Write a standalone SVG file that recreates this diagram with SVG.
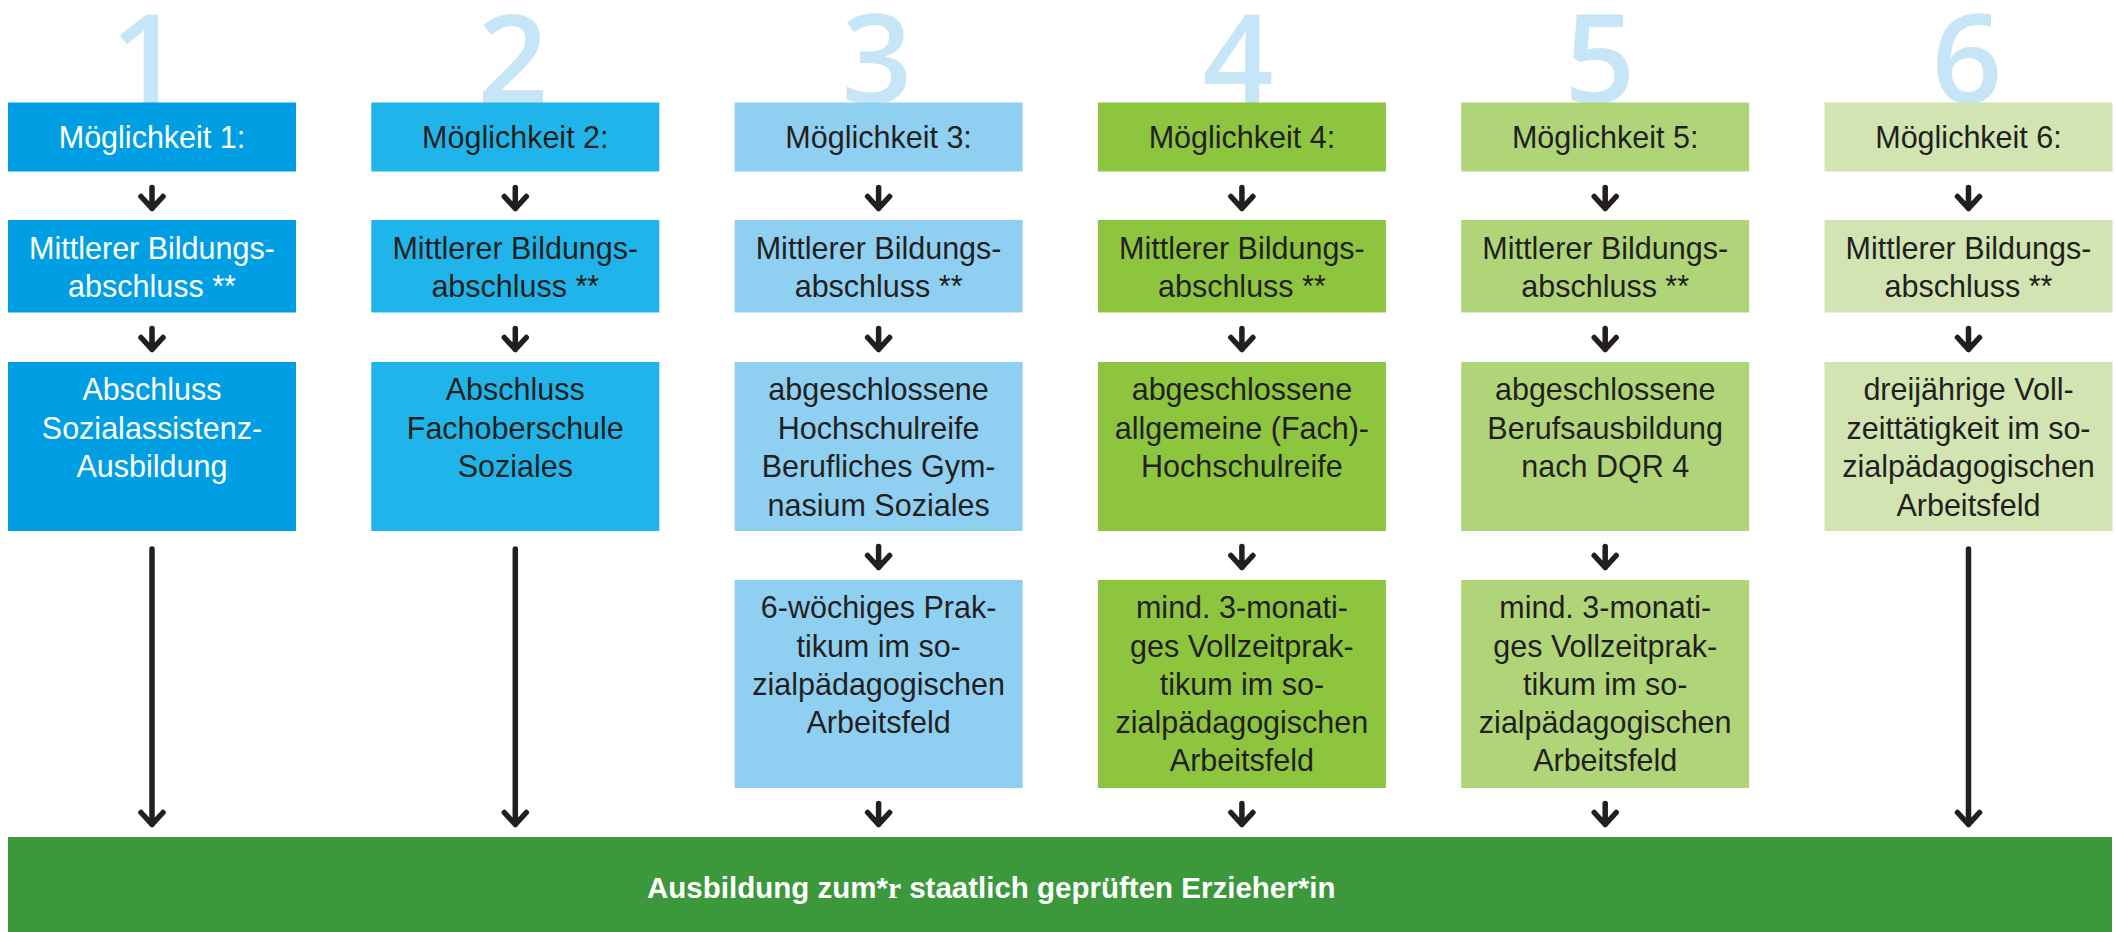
<svg xmlns="http://www.w3.org/2000/svg" width="2116" height="932" viewBox="0 0 2116 932">
<style>
.num{font-family:"Open Sans","Liberation Sans",sans-serif;font-weight:600;font-size:124px;fill:#c6e5f6;text-anchor:middle}
.t{font-family:"Liberation Sans",Arial,sans-serif;font-size:30.5px;fill:#231f20;text-anchor:middle}
.w{fill:#ffffff}
.c1{fill:#009fe3}.c2{fill:#20b5ea}.c3{fill:#8fd0f2}.c4{fill:#8dc53e}.c5{fill:#b0d579}.c6{fill:#d1e4b1}
.bar{fill:#3b993b}
.bt{font-family:"Liberation Sans",Arial,sans-serif;font-weight:bold;font-size:29.5px;fill:#ffffff}
.ar{fill:none;stroke:#231f20;stroke-width:5.5;stroke-linecap:round;stroke-linejoin:round}
</style>
<rect width="2116" height="932" fill="#ffffff"/>
<g id="numbers">
<text class="num" x="146" y="103">1</text>
<text class="num" x="513" y="103">2</text>
<text class="num" x="877" y="103">3</text>
<text class="num" x="1238" y="103">4</text>
<text class="num" x="1600" y="103">5</text>
<text class="num" x="1967" y="103">6</text>
</g>
<g id="col1">
<g id="n1a"><rect class="c1" x="8" y="102.5" width="288" height="69"/><text class="t w" x="152" y="148">Möglichkeit 1:</text></g>
<g id="n1b"><rect class="c1" x="8" y="220" width="288" height="92.5"/><text class="t w" x="152" y="259">Mittlerer Bildungs-</text><text class="t w" x="152" y="297">abschluss **</text></g>
<g id="n1c"><rect class="c1" x="8" y="362" width="288" height="169"/><text class="t w" x="152" y="400">Abschluss</text><text class="t w" x="152" y="438.5">Sozialassistenz-</text><text class="t w" x="152" y="477">Ausbildung</text></g>
</g>
<g id="col2">
<g id="n2a"><rect class="c2" x="371.3" y="102.5" width="288" height="69"/><text class="t" x="515.3" y="148">Möglichkeit 2:</text></g>
<g id="n2b"><rect class="c2" x="371.3" y="220" width="288" height="92.5"/><text class="t" x="515.3" y="259">Mittlerer Bildungs-</text><text class="t" x="515.3" y="297">abschluss **</text></g>
<g id="n2c"><rect class="c2" x="371.3" y="362" width="288" height="169"/><text class="t" x="515.3" y="400">Abschluss</text><text class="t" x="515.3" y="438.5">Fachoberschule</text><text class="t" x="515.3" y="477">Soziales</text></g>
</g>
<g id="col3">
<g id="n3a"><rect class="c3" x="734.6" y="102.5" width="288" height="69"/><text class="t" x="878.6" y="148">Möglichkeit 3:</text></g>
<g id="n3b"><rect class="c3" x="734.6" y="220" width="288" height="92.5"/><text class="t" x="878.6" y="259">Mittlerer Bildungs-</text><text class="t" x="878.6" y="297">abschluss **</text></g>
<g id="n3c"><rect class="c3" x="734.6" y="362" width="288" height="169"/><text class="t" x="878.6" y="400">abgeschlossene</text><text class="t" x="878.6" y="438.5">Hochschulreife</text><text class="t" x="878.6" y="477">Berufliches Gym-</text><text class="t" x="878.6" y="515.5">nasium Soziales</text></g>
<g id="n3d"><rect class="c3" x="734.6" y="580" width="288" height="208"/><text class="t" x="878.6" y="618">6-wöchiges Prak-</text><text class="t" x="878.6" y="656.5">tikum im so-</text><text class="t" x="878.6" y="694.5">zialpädagogischen</text><text class="t" x="878.6" y="732.5">Arbeitsfeld</text></g>
</g>
<g id="col4">
<g id="n4a"><rect class="c4" x="1097.9" y="102.5" width="288" height="69"/><text class="t" x="1241.9" y="148">Möglichkeit 4:</text></g>
<g id="n4b"><rect class="c4" x="1097.9" y="220" width="288" height="92.5"/><text class="t" x="1241.9" y="259">Mittlerer Bildungs-</text><text class="t" x="1241.9" y="297">abschluss **</text></g>
<g id="n4c"><rect class="c4" x="1097.9" y="362" width="288" height="169"/><text class="t" x="1241.9" y="400">abgeschlossene</text><text class="t" x="1241.9" y="438.5">allgemeine (Fach)-</text><text class="t" x="1241.9" y="477">Hochschulreife</text></g>
<g id="n4d"><rect class="c4" x="1097.9" y="580" width="288" height="208"/><text class="t" x="1241.9" y="618">mind. 3-monati-</text><text class="t" x="1241.9" y="656.5">ges Vollzeitprak-</text><text class="t" x="1241.9" y="694.5">tikum im so-</text><text class="t" x="1241.9" y="732.5">zialpädagogischen</text><text class="t" x="1241.9" y="771">Arbeitsfeld</text></g>
</g>
<g id="col5">
<g id="n5a"><rect class="c5" x="1461.2" y="102.5" width="288" height="69"/><text class="t" x="1605.2" y="148">Möglichkeit 5:</text></g>
<g id="n5b"><rect class="c5" x="1461.2" y="220" width="288" height="92.5"/><text class="t" x="1605.2" y="259">Mittlerer Bildungs-</text><text class="t" x="1605.2" y="297">abschluss **</text></g>
<g id="n5c"><rect class="c5" x="1461.2" y="362" width="288" height="169"/><text class="t" x="1605.2" y="400">abgeschlossene</text><text class="t" x="1605.2" y="438.5">Berufsausbildung</text><text class="t" x="1605.2" y="477">nach DQR 4</text></g>
<g id="n5d"><rect class="c5" x="1461.2" y="580" width="288" height="208"/><text class="t" x="1605.2" y="618">mind. 3-monati-</text><text class="t" x="1605.2" y="656.5">ges Vollzeitprak-</text><text class="t" x="1605.2" y="694.5">tikum im so-</text><text class="t" x="1605.2" y="732.5">zialpädagogischen</text><text class="t" x="1605.2" y="771">Arbeitsfeld</text></g>
</g>
<g id="col6">
<g id="n6a"><rect class="c6" x="1824.5" y="102.5" width="288" height="69"/><text class="t" x="1968.5" y="148">Möglichkeit 6:</text></g>
<g id="n6b"><rect class="c6" x="1824.5" y="220" width="288" height="92.5"/><text class="t" x="1968.5" y="259">Mittlerer Bildungs-</text><text class="t" x="1968.5" y="297">abschluss **</text></g>
<g id="n6c"><rect class="c6" x="1824.5" y="362" width="288" height="169"/><text class="t" x="1968.5" y="400">dreijährige Voll-</text><text class="t" x="1968.5" y="438.5">zeittätigkeit im so-</text><text class="t" x="1968.5" y="477">zialpädagogischen</text><text class="t" x="1968.5" y="515.5">Arbeitsfeld</text></g>
</g>
<g id="target">
<rect class="bar" x="8" y="837" width="2104" height="95"/>
<text class="bt" x="647" y="898">Ausbildung zum*<tspan font-family="Liberation Serif">r</tspan> staatlich geprüften Erzieher*in</text>
</g>
<g id="connectors">
<path class="ar" d="M152,187.5V208.5M141,196.5L152,208.5L163,196.5 M515.3,187.5V208.5M504.3,196.5L515.3,208.5L526.3,196.5 M878.6,187.5V208.5M867.6,196.5L878.6,208.5L889.6,196.5 M1241.9,187.5V208.5M1230.9,196.5L1241.9,208.5L1252.9,196.5 M1605.2,187.5V208.5M1594.2,196.5L1605.2,208.5L1616.2,196.5 M1968.5,187.5V208.5M1957.5,196.5L1968.5,208.5L1979.5,196.5"/>
<path class="ar" d="M152,328.5V349.5M141,337.5L152,349.5L163,337.5 M515.3,328.5V349.5M504.3,337.5L515.3,349.5L526.3,337.5 M878.6,328.5V349.5M867.6,337.5L878.6,349.5L889.6,337.5 M1241.9,328.5V349.5M1230.9,337.5L1241.9,349.5L1252.9,337.5 M1605.2,328.5V349.5M1594.2,337.5L1605.2,349.5L1616.2,337.5 M1968.5,328.5V349.5M1957.5,337.5L1968.5,349.5L1979.5,337.5"/>
<path class="ar" d="M878.6,546.5V567.5M867.6,555.5L878.6,567.5L889.6,555.5 M1241.9,546.5V567.5M1230.9,555.5L1241.9,567.5L1252.9,555.5 M1605.2,546.5V567.5M1594.2,555.5L1605.2,567.5L1616.2,555.5"/>
<path class="ar" d="M878.6,803.5V824.5M867.6,812.5L878.6,824.5L889.6,812.5 M1241.9,803.5V824.5M1230.9,812.5L1241.9,824.5L1252.9,812.5 M1605.2,803.5V824.5M1594.2,812.5L1605.2,824.5L1616.2,812.5"/>
<path class="ar" d="M152,549V824.5M141,812.5L152,824.5L163,812.5 M515.3,549V824.5M504.3,812.5L515.3,824.5L526.3,812.5 M1968.5,549V824.5M1957.5,812.5L1968.5,824.5L1979.5,812.5"/>
</g>
</svg>
